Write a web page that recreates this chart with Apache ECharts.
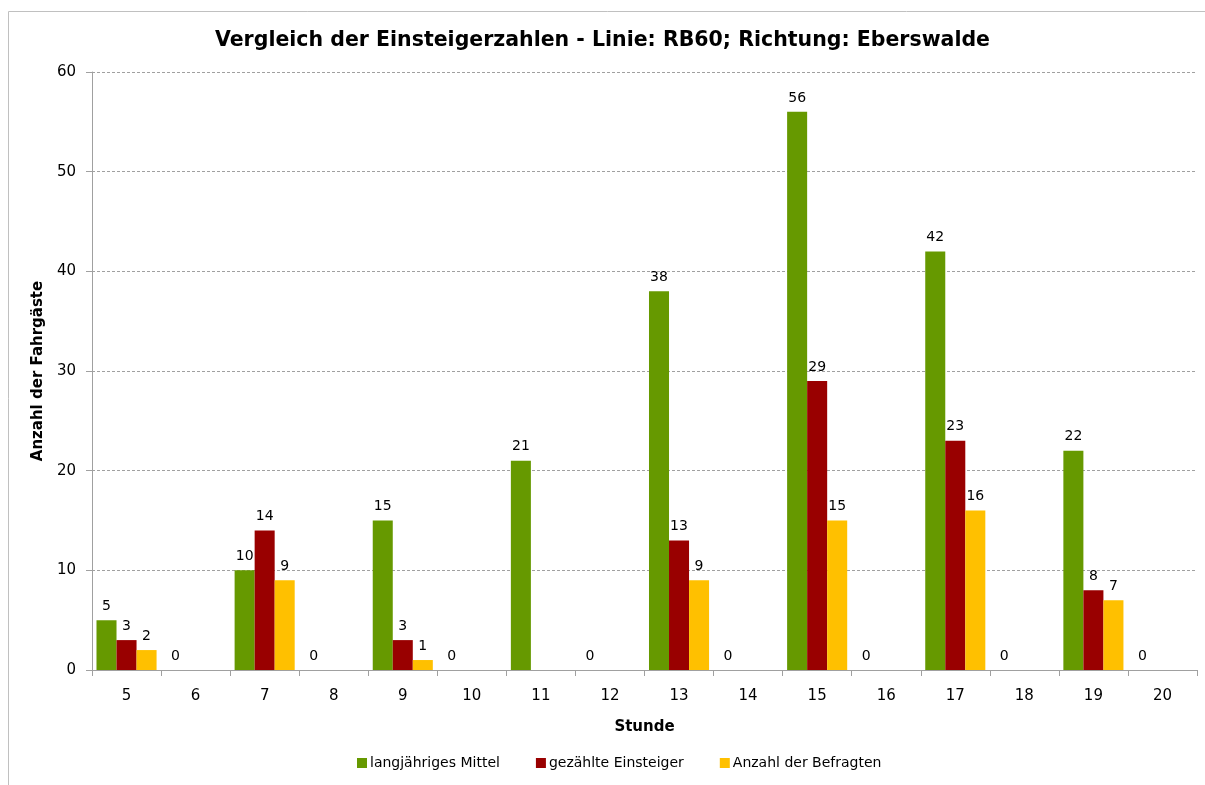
<!DOCTYPE html>
<html><head><meta charset="utf-8">
<script src="https://cdn.jsdelivr.net/npm/echarts@6/dist/echarts.min.js"></script>
<style>html,body{margin:0;padding:0;background:#fff}#c{width:1205px;height:785px}</style>
</head><body><div id="c"></div>
<script>
const categories = ['5','6','7','8','9','10','11','12','13','14','15','16','17','18','19','20'];
const mittel = [5,0,10,0,15,0,21,0,38,0,56,0,42,0,22,0];
const gezaehlt = [3,null,14,null,3,null,null,null,13,null,29,null,23,null,8,null];
const befragt = [2,null,9,null,1,null,null,null,9,null,15,null,16,null,7,null];
const seriesNames = ['langjähriges Mittel','gezählte Einsteiger','Anzahl der Befragten'];
const colors = ['#669900','#990000','#FFC000'];
const font = 'DejaVu Sans, Verdana, sans-serif';
const chart = echarts.init(document.getElementById('c'));
const lbl = {show:true, position:'top', distance:7, color:'#000', fontSize:14, fontFamily:font};
chart.setOption({
  animation:false,
  textStyle:{fontFamily:font},
  graphic:[{type:'rect', shape:{x:8.5,y:11.5,width:1400,height:900}, style:{fill:'none', stroke:'#c0c0c0', lineWidth:1}}],
  title:{text:'Vergleich der Einsteigerzahlen - Linie: RB60; Richtung: Eberswalde', left:'center', top:25,
    textStyle:{fontSize:20.5, fontWeight:'bold', color:'#000', fontFamily:font}},
  legend:{bottom:10, left:352, itemWidth:10, itemHeight:10, itemGap:36, icon:'rect',
    textStyle:{fontSize:14, color:'#000', fontFamily:font, padding:[0,0,0,-2]}, data:seriesNames},
  grid:{left:92, right:8, top:72, bottom:115, containLabel:false},
  xAxis:{type:'category', data:categories, name:'Stunde', nameLocation:'middle', nameGap:50,
    nameTextStyle:{fontSize:15, fontWeight:'bold', color:'#000', fontFamily:font},
    axisLine:{lineStyle:{color:'#a0a0a0'}}, axisTick:{show:true, length:6, lineStyle:{color:'#a0a0a0'}},
    axisLabel:{fontSize:15, color:'#000', margin:19, fontFamily:font}},
  yAxis:{type:'value', min:0, max:60, interval:10, name:'Anzahl der Fahrgäste', nameLocation:'middle', nameGap:45,
    nameTextStyle:{fontSize:15, fontWeight:'bold', color:'#000', fontFamily:font},
    axisLine:{show:true, lineStyle:{color:'#a0a0a0'}}, axisTick:{show:true, length:6, lineStyle:{color:'#a0a0a0'}},
    axisLabel:{fontSize:15, color:'#000', margin:16, fontFamily:font},
    splitLine:{lineStyle:{color:'#a0a0a0', type:[3,2]}}},
  series:[
    {name:seriesNames[0], type:'bar', data:mittel, itemStyle:{color:colors[0]}, barGap:'0%', barCategoryGap:'13%', label:lbl},
    {name:seriesNames[1], type:'bar', data:gezaehlt, itemStyle:{color:colors[1]}, label:lbl},
    {name:seriesNames[2], type:'bar', data:befragt, itemStyle:{color:colors[2]}, label:lbl}
  ]
});
</script></body></html>
